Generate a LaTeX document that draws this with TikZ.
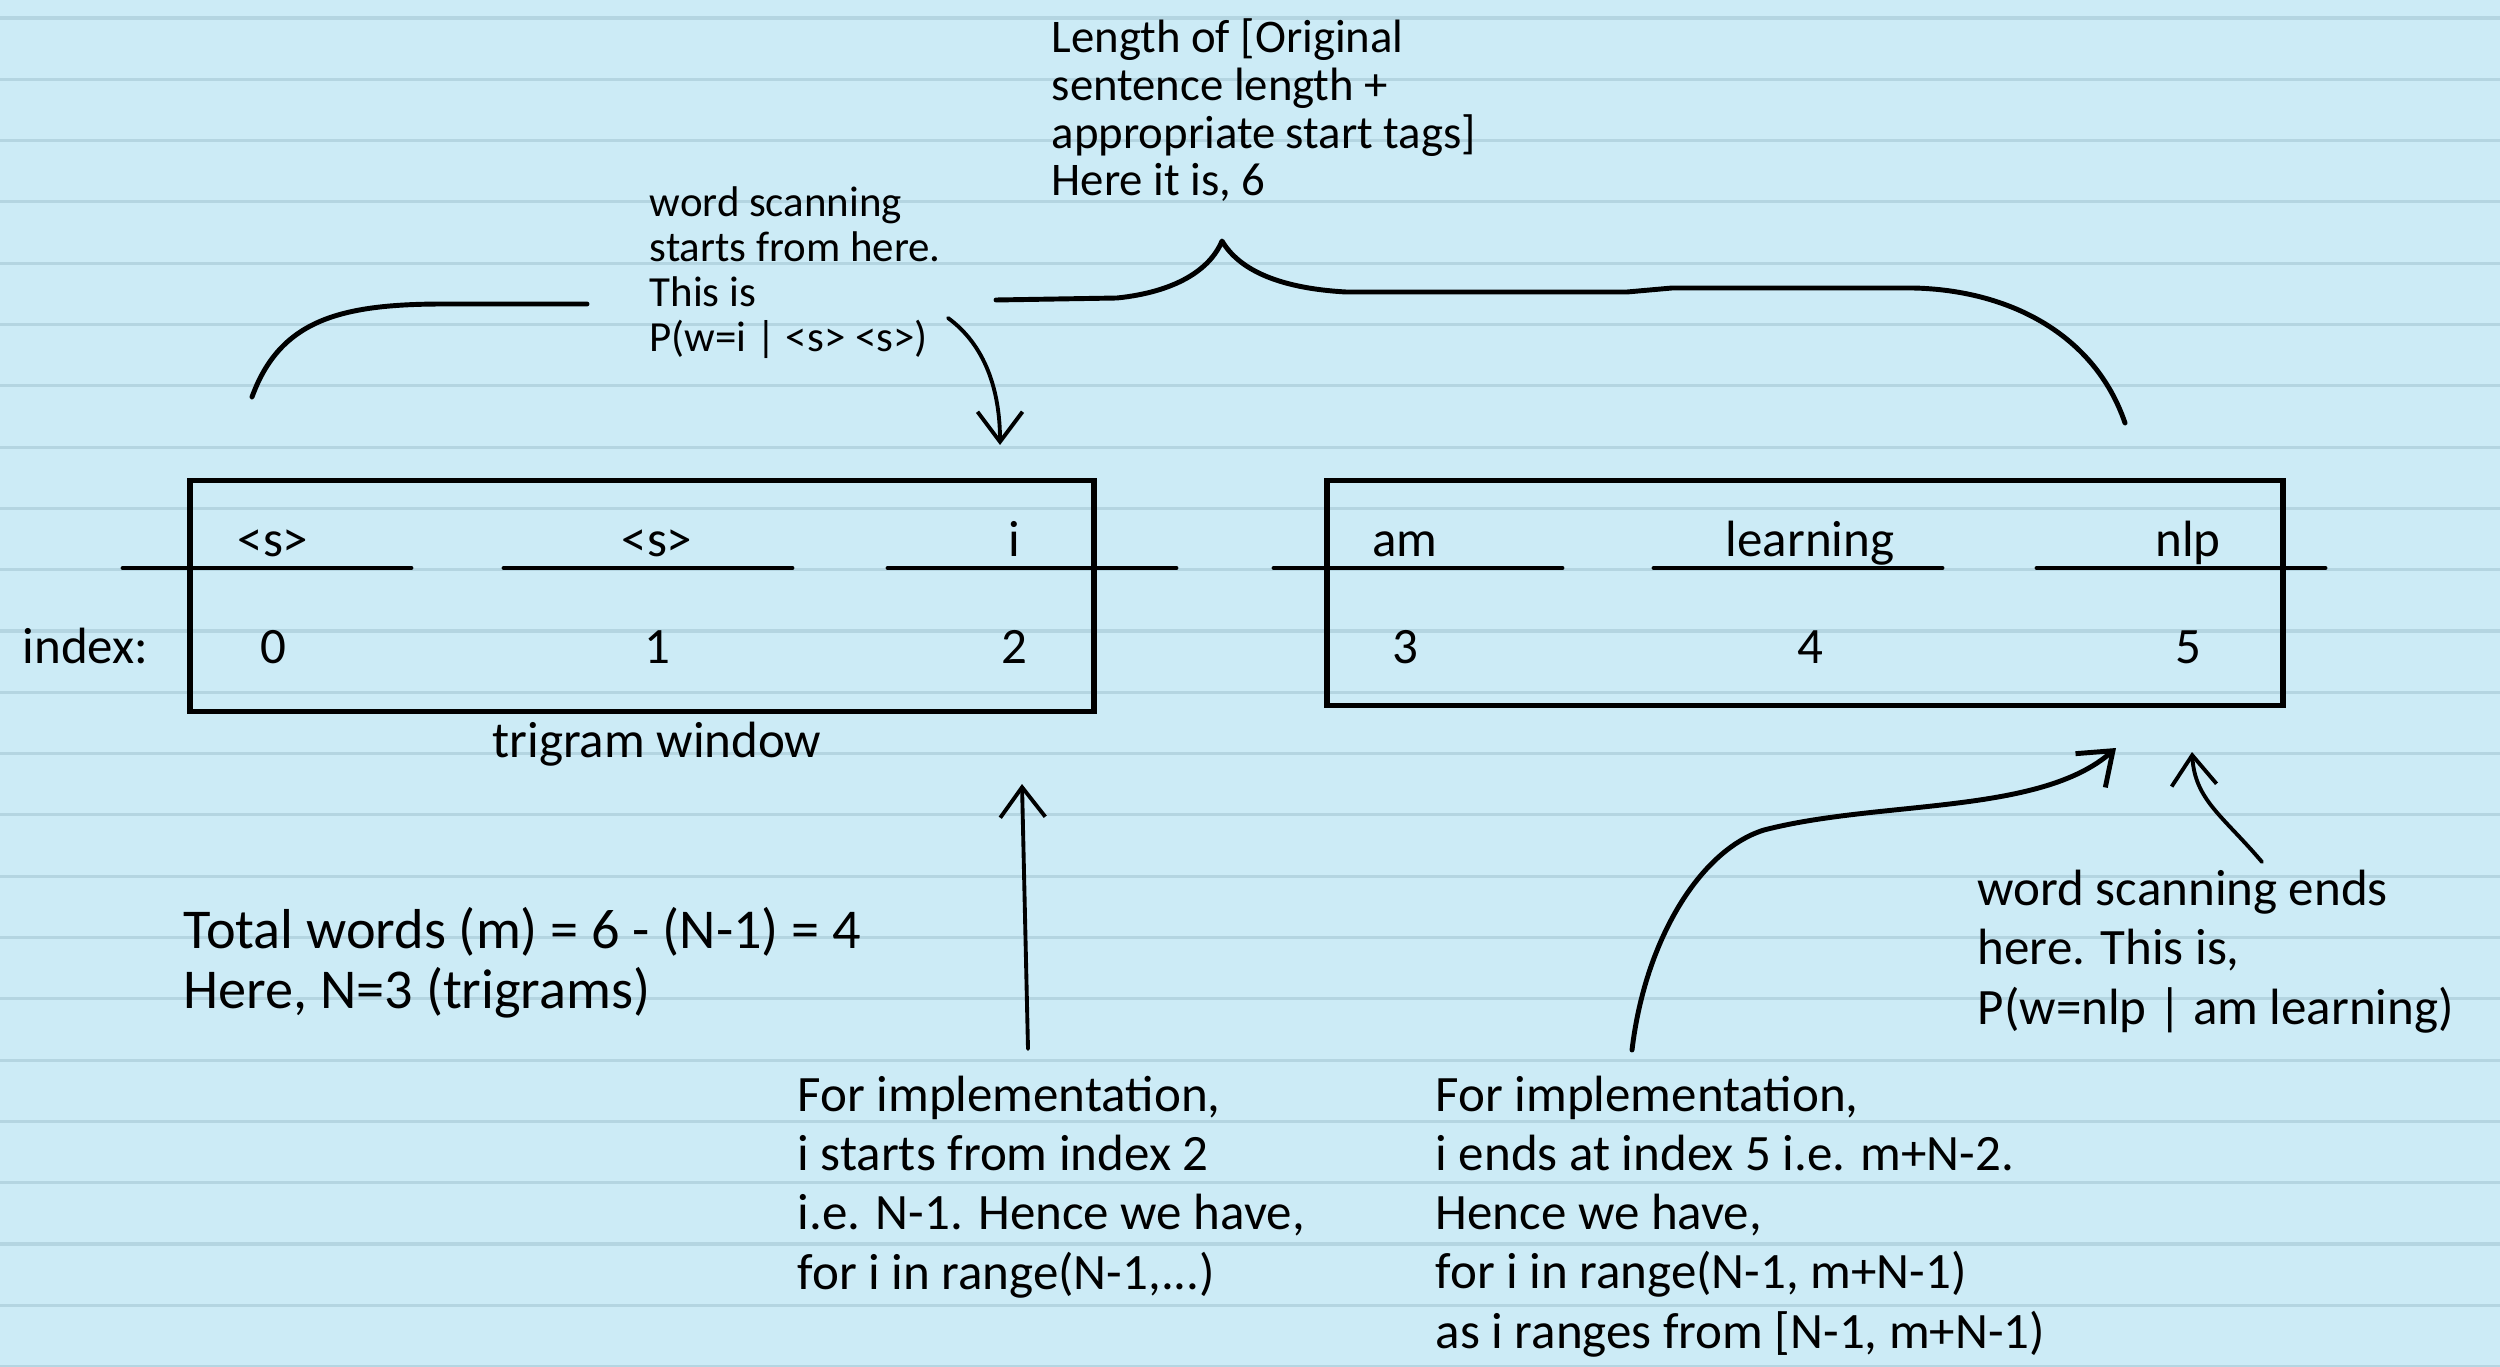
\documentclass[tikz,border=0pt]{standalone}
\usepackage{fontspec}
\setmainfont{Carlito}
\usetikzlibrary{arrows.meta,positioning,calc}

\definecolor{paper}{RGB}{204,235,246}
\definecolor{ruling}{RGB}{180,213,225}

\begin{document}
\begin{tikzpicture}[
  x=0.01cm, y=-0.01cm,
  font=\fontsize{14.5}{16.8}\selectfont,
  txt/.style={anchor=base west, inner sep=0pt, align=left},
  small/.style={txt, font=\fontsize{12.2}{12.8}\selectfont},
  word/.style={anchor=base, inner sep=0pt},
  window/.style={draw, line width=1.6pt, inner sep=0pt, minimum width=#1},
  pen/.style={line width=1.4pt, line cap=round, line join=round},
  slot/.style={pen},
  pointer/.style={line width=1.1pt, line cap=round, line join=round, -{Straight Barb[length=3mm, width=4.5mm]}}
]
\useasboundingbox (0,0) rectangle (2500,1367);
% ruled paper
\fill[paper] (0,0) rectangle (2500,1367);
\foreach \k in {0,...,22}
  \draw[ruling, line width=0.9pt] (0,{18+61.3*\k}) -- (2500,{18+61.3*\k});

% the two windows
\node[window=9.03cm, minimum height=2.31cm] (winL) at (642,596) {};
\node[window=9.56cm, minimum height=2.25cm] (winR) at (1805,593) {};

% tokens, slots and indices
\foreach \x/\s/\w/\i in {273/267/{<s>}/0, 657/648/{<s>}/1, 1014/1032/i/2,
                         1405/1418/am/3, 1810/1798/learning/4, 2188/2181/nlp/5} {
  \node[word] (tok\i) at (\x,556) {\w};
  \draw[slot] ({\s-144},568) -- ({\s+144},568);
  \node[word] (idx\i) at (\x,663) {\i};
}
\node[txt] (idxlabel) at (22,663) {index:};
\node[word] (winlabel) at (657,757) {trigram window};

% notes (anchored at the baseline of their last line)
\node[small] (startnote) at (649,352) {word scanning\\starts from here.\\This is\\P(w=i | <s> <s>)};
\node[txt, font=\fontsize{13.3}{13.6}\selectfont] (lennote) at (1051,196)
  {Length of [Original\\sentence length +\\appropriate start tags]\\Here it is, 6};
\node[txt, font=\fontsize{16}{16.8}\selectfont] (totalnote) at (183,1008)
  {Total words (m) = 6 - (N-1) = 4\\Here, N=3 (trigrams)};
\node[txt] (startimpl) at (797,1289)
  {For implementation,\\i starts from index 2\\i.e. N-1. Hence we have,\\for i in range(N-1,...)};
\node[txt] (endimpl) at (1435,1348)
  {For implementation,\\i ends at index 5 i.e. m+N-2.\\Hence we have,\\for i in range(N-1, m+N-1)\\as i ranges from [N-1, m+N-1)};
\node[txt] (endnote) at (1977,1024) {word scanning ends\\here. This is,\\P(w=nlp | am learning)};

% brace over the whole sentence
\coordinate (sentL) at (252,397);
\coordinate (gapL) at (587,304);
\coordinate (gapR) at (996,300);
\coordinate (peak) at (1222,241);
\coordinate (sentR) at (2125,423);
\draw[pen] (sentL) .. controls (280,320) and (340,304) .. (444,304) -- (gapL);
\draw[pen] (gapR) -- (1117,298) .. controls (1175,292) and (1210,270) .. (peak)
  .. controls (1238,268) and (1275,288) .. (1346,292) -- (1627,292) -- (1672,288)
  -- (1913,288) .. controls (2010,290) and (2095,335) .. (sentR);

% pointers
\coordinate (startfrom) at (948,318);
\coordinate (starttip) at (1000,445);
\draw[pointer] (startfrom) .. controls (985,345) and (1000,390) .. (starttip);

\coordinate (implfrom) at (1028,1049);
\coordinate (impltip) at (1022,784);
\draw[pointer] (implfrom) -- (impltip);

\coordinate (endfrom) at (1632,1050);
\coordinate (endtip) at (2116,748);
\draw[pointer, line width=1.4pt] (endfrom) .. controls (1645,940) and (1700,850) .. (1764,830)
  .. controls (1880,800) and (2040,815) .. (endtip);

\coordinate (notefrom) at (2262,862);
\coordinate (lasttip) at (2192,752);
\draw[pointer] (notefrom) .. controls (2222,815) and (2195,800) .. (lasttip);
\end{tikzpicture}
\end{document}
